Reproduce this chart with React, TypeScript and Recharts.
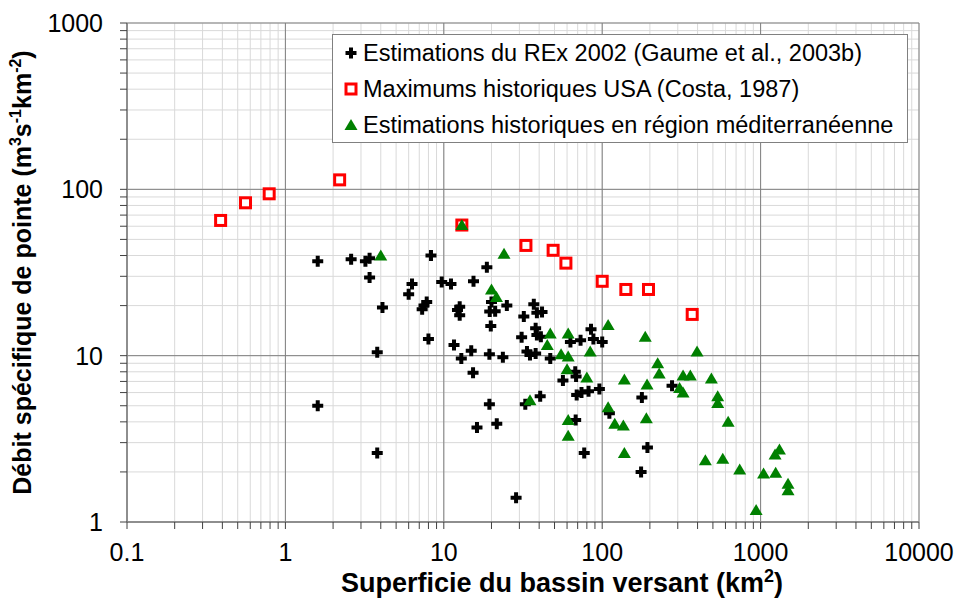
import { CartesianGrid, Label, Legend, Scatter, ScatterChart, XAxis, YAxis } from 'recharts';

// axes (log-log)
const xDecades = [0.1, 1, 10, 100, 1000, 10000];
const yDecades = [1, 10, 100, 1000];
const minorSteps = [1, 2, 3, 4, 5, 6, 7, 8, 9];

// Estimations du REx 2002 (Gaume et al., 2003b)
const rexArea = [1.6, 2.6, 3.2, 3.4, 3.4, 4.1, 3.8, 1.6, 3.8, 8.3, 6.3, 6.0, 7.8, 7.5, 7.3, 8.0, 9.7, 11.1, 15.4, 18.7, 12.6, 12.2, 12.6, 20, 19.5, 21.1, 19.8, 25, 11.6, 14.9, 12.9, 19.4, 23.6, 15.3, 19.4, 21.6, 16.2, 28.6, 32, 37, 38.7, 41.7, 38, 38.7, 41, 31, 33.5, 35, 38, 47, 32.7, 40.6, 56.5, 67.6, 68.4, 63, 73, 85, 88, 100, 69, 74, 82, 96, 68, 77, 111, 178, 193, 176, 276];
const rexQ = [37, 38, 37, 38.5, 29.5, 19.5, 10.5, 5.0, 2.6, 40, 27, 23.4, 21, 20, 19, 12.6, 27.7, 27, 28, 34, 19.7, 18.8, 17.5, 21, 18.4, 18.5, 15.1, 20, 11.6, 10.7, 9.6, 10.2, 9.8, 7.9, 5.1, 3.9, 3.7, 1.4, 17.2, 20.4, 18.1, 18.3, 14.6, 13.3, 13.0, 12.9, 10.6, 10.1, 10.3, 9.6, 5.1, 5.7, 7.1, 8.0, 7.5, 12.1, 12.4, 14.4, 12.6, 12.1, 5.8, 6.0, 6.1, 6.3, 4.1, 2.6, 4.5, 5.6, 2.8, 2.0, 6.6];

// Maximums historiques USA (Costa, 1987)
const costaArea = [0.39, 0.56, 0.79, 2.2, 13, 33, 49, 59, 100, 141, 196, 370];
const costaQ = [65, 83, 94, 114, 61, 46, 43, 36, 28, 25, 25, 17.7];

// Estimations historiques en région méditerranéenne
const medArea = [4.0, 13, 20, 21.5, 24, 47, 45, 61, 55, 61, 60, 84, 80, 109, 35, 61, 61, 109, 120, 136, 138, 138, 187, 192, 190, 224, 229, 324, 360, 308, 324, 397, 489, 536, 536, 624, 448, 577, 738, 937, 1044, 1245, 1234, 1315, 1490, 1490];
const medQ = [40, 61, 25, 22.5, 41, 13.6, 11.6, 13.6, 10.2, 9.9, 8.3, 10.6, 7.4, 15.3, 5.4, 4.1, 3.3, 4.9, 3.9, 3.8, 7.2, 2.6, 13, 6.7, 4.2, 9.0, 7.8, 7.6, 7.6, 6.4, 6.0, 10.6, 7.3, 5.7, 5.2, 4.0, 2.35, 2.4, 2.07, 1.18, 1.96, 1.98, 2.55, 2.73, 1.7, 1.55];

const legendLabels = [
  'Estimations du REx 2002 (Gaume et al., 2003b)',
  'Maximums historiques USA (Costa, 1987)',
  'Estimations historiques en région méditerranéenne',
];

const FONT = '"Liberation Sans", Arial, sans-serif';
const MAJOR = '#808080';
const MINOR = '#d9d9d9';

const withMinors = (decades: number[]) => {
  const out: number[] = [];
  decades.slice(0, -1).forEach((d) => minorSteps.forEach((s) => out.push(d * s)));
  out.push(decades[decades.length - 1]);
  return out;
};
const xTicks = withMinors(xDecades);
const yTicks = withMinors(yDecades);

const isDecade = (v: number) => Math.abs(Math.log10(v) - Math.round(Math.log10(v))) < 1e-9;
const fmt = (v: number) => (isDecade(v) ? String(v) : '');

const toRows = (xs: number[], ys: number[]) => xs.map((x, i) => ({ area: x, q: ys[i] }));
const rexData = toRows(rexArea, rexQ);
const costaData = toRows(costaArea, costaQ);
const medData = toRows(medArea, medQ);

const plusPath = (cx: number, cy: number) =>
  `M${cx - 2} ${cy - 5.5}h4v3.5h3.5v4h-3.5v3.5h-4v-3.5h-3.5v-4h3.5z`;

const PlusShape = (p: any) => <path d={plusPath(p.cx, p.cy)} fill="#000" />;
const SquareShape = (p: any) => (
  <rect x={p.cx - 5} y={p.cy - 5} width={10} height={10} fill="#fff" stroke="#ff0000" strokeWidth={3} />
);
const TriangleShape = (p: any) => (
  <polygon points={`${p.cx},${p.cy - 6} ${p.cx - 6.5},${p.cy + 5} ${p.cx + 6.5},${p.cy + 5}`} fill="#008000" />
);

const legendIcons = [PlusShape, SquareShape, TriangleShape];

function LegendBox() {
  return (
    <div
      style={{
        width: 576,
        height: 109,
        boxSizing: 'border-box',
        border: `1.5px solid ${MAJOR}`,
        background: '#fff',
        fontFamily: FONT,
        fontSize: 23.5,
        color: '#000',
      }}
    >
      {legendLabels.map((t, i) => {
        const Icon = legendIcons[i];
        return (
          <div key={t} style={{ display: 'flex', alignItems: 'center', height: 36, whiteSpace: 'nowrap' }}>
            <svg width={30} height={20} style={{ flex: 'none' }}>
              <Icon cx={18} cy={10} />
            </svg>
            <span>{t}</span>
          </div>
        );
      })}
    </div>
  );
}

const XTitle = (props: any) => {
  const vb = props.viewBox;
  return (
    <text x={562} y={vb.y + 70} textAnchor="middle" fontFamily={FONT} fontWeight="bold" fontSize={27} fill="#000">
      Superficie du bassin versant (km<tspan dy={-10} fontSize={18}>2</tspan><tspan dy={10}>)</tspan>
    </text>
  );
};

const YTitle = (props: any) => {
  const vb = props.viewBox;
  const x = 31;
  const y = vb.y + vb.height / 2;
  return (
    <text x={x} y={y} transform={`rotate(-90 ${x} ${y})`} textAnchor="middle" fontFamily={FONT} fontWeight="bold" fontSize={25} fill="#000">
      Débit spécifique de pointe (m<tspan dy={-10} fontSize={16}>3</tspan>
      <tspan dy={10}>s</tspan>
      <tspan dy={-10} fontSize={16}>-1</tspan>
      <tspan dy={10}>km</tspan>
      <tspan dy={-10} fontSize={16}>-2</tspan>
      <tspan dy={10}>)</tspan>
    </text>
  );
};

export default function App() {
  return (
    <div style={{ position: 'absolute', left: 0, top: 0, width: 958, height: 606, background: '#fff' }}>
      <ScatterChart width={958} height={606} margin={{ top: 23, right: 39, bottom: 0, left: 0 }}>
        <CartesianGrid stroke={MINOR} strokeWidth={1} />
        <CartesianGrid stroke={MAJOR} strokeWidth={1} horizontalValues={yDecades} verticalValues={xDecades} />
        <XAxis
          dataKey="area"
          type="number"
          scale="log"
          domain={[0.1, 10000]}
          allowDataOverflow
          ticks={xTicks}
          interval={0}
          tickFormatter={fmt}
          tickSize={7}
          tickMargin={14}
          height={84}
          axisLine={{ stroke: MAJOR, strokeWidth: 1.5 }}
          tickLine={{ stroke: '#404040' }}
          tick={{ fill: '#000', fontSize: 25, fontFamily: FONT }}
        >
          <Label content={XTitle} />
        </XAxis>
        <YAxis
          dataKey="q"
          type="number"
          scale="log"
          domain={[1, 1000]}
          allowDataOverflow
          ticks={yTicks}
          interval={0}
          tickFormatter={fmt}
          tickSize={7}
          tickMargin={17}
          width={127}
          axisLine={{ stroke: MAJOR, strokeWidth: 1.5 }}
          tickLine={{ stroke: '#404040' }}
          tick={{ fill: '#000', fontSize: 25, fontFamily: FONT }}
        >
          <Label content={YTitle} />
        </YAxis>
        <Legend
          layout="horizontal"
          verticalAlign="middle"
          content={() => <LegendBox />}
          wrapperStyle={{ position: 'absolute', left: 332, top: 34, width: 576, height: 109 }}
        />
        <Scatter name={legendLabels[0]} data={rexData} shape={PlusShape} isAnimationActive={false} />
        <Scatter name={legendLabels[1]} data={costaData} shape={SquareShape} isAnimationActive={false} />
        <Scatter name={legendLabels[2]} data={medData} shape={TriangleShape} isAnimationActive={false} />
      </ScatterChart>
    </div>
  );
}
